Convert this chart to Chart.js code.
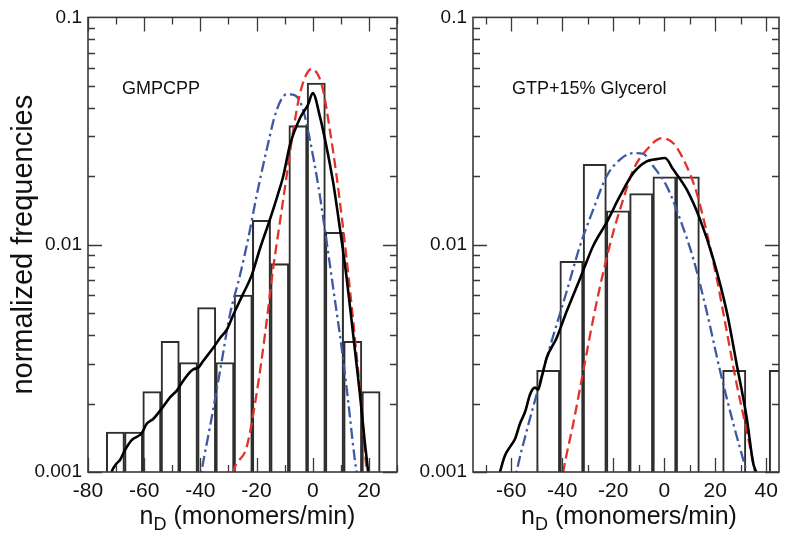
<!DOCTYPE html>
<html>
<head>
<meta charset="utf-8">
<script src="https://cdn.jsdelivr.net/npm/chart.js@4"></script>
<style>
html,body{margin:0;padding:0;background:#fff;}
#wrap{position:relative;width:786px;height:536px;overflow:hidden;}
canvas{position:absolute;top:0;}
#c1{left:0;}
#c2{left:420px;}
</style>
</head>
<body>
<div id="wrap">
<canvas id="c1" width="420" height="536"></canvas>
<canvas id="c2" width="366" height="536"></canvas>
</div>
<script>
// ---------- data ----------
const yTickValues = [0.001, 0.01, 0.1];
const yTickLabels = ['0.001', '0.01', '0.1'];
const leftXTicks = [-80, -60, -40, -20, 0, 20];
const rightXTicks = [-60, -40, -20, 0, 20, 40];
const panelLabels = ['GMPCPP', 'GTP+15% Glycerol'];
const yTitle = 'normalized frequencies';
const xTitleParts = ['n', 'D', ' (monomers/min)'];

// left panel (GMPCPP) histogram
const leftBinX = [-70.25, -63.75, -57.25, -50.75, -44.25, -37.75, -31.25, -24.75, -18.25, -11.75, -5.25, 1.25, 7.75, 14.25, 20.75];
const leftBinY = [0.0015, 0.0015, 0.00226, 0.00376, 0.00303, 0.00529, 0.00303, 0.00601, 0.0128, 0.00825, 0.0334, 0.0514, 0.01134, 0.00376, 0.00226];

// left panel curves
const leftBlackX = [-73, -71.6, -69.8, -68.6, -66.8, -64.45, -60.9, -59.1, -56.8, -53.8, -50.8, -48.4, -46.1, -43.7, -42.5, -40.7, -39.0, -35.4, -33.0, -30.6, -28.3, -25, -21.7, -18.8, -15.2, -12.5, -10.5, -8.1, -4.6, -1.6, 0.0, 2.56, 4.9, 7.3, 9.7, 12.1, 14.4, 16.8, 18.6, 19.75, 20.5];
const leftBlackY = [0.00085, 0.001, 0.00109, 0.00113, 0.00125, 0.00138, 0.00148, 0.00163, 0.00171, 0.0019, 0.00213, 0.00228, 0.00252, 0.00275, 0.00283, 0.00288, 0.00308, 0.00352, 0.00389, 0.00423, 0.00491, 0.006, 0.00735, 0.0096, 0.01296, 0.0165, 0.0200, 0.0275, 0.0359, 0.0415, 0.0465, 0.0366, 0.027, 0.0187, 0.01172, 0.0071, 0.00402, 0.0022, 0.00133, 0.001, 0.00085];
const leftBlueX = [-40.5, -39.5, -36.6, -33.0, -29.5, -25.9, -23.0, -20.0, -16.4, -12.85, -9.3, -6.3, -3.4, -1.0, 2.0, 4.3, 7.3, 10.3, 12.6, 15.0, 15.6, 16.2];
const leftBlueY = [0.00085, 0.00102, 0.001575, 0.00278, 0.00491, 0.00734, 0.0106, 0.01638, 0.02615, 0.03906, 0.04585, 0.0454, 0.0391, 0.0289, 0.0181, 0.01172, 0.00642, 0.00352, 0.00206, 0.001127, 0.001, 0.00088];
const leftRedX = [-29.3, -28.3, -23.5, -20.0, -17.0, -14.1, -11.7, -9.3, -6.9, -4.55, -2.2, -0.4, 2.0, 3.7, 6.1, 8.5, 10.85, 13.2, 15.6, 17.4, 19.2, 19.8];
const leftRedY = [0.00085, 0.001, 0.00129, 0.002203, 0.00402, 0.00784, 0.01253, 0.02002, 0.03196, 0.04618, 0.0564, 0.0593, 0.05548, 0.04774, 0.03196, 0.02002, 0.01172, 0.00642, 0.00329, 0.001925, 0.001, 0.00088];

// right panel (GTP+15% Glycerol) histogram
const rightBinX = [-45.5, -36.38, -27.26, -18.14, -9.02, 0.1, 9.22, 18.34, 27.46, 36.58, 45.7];
const rightBinY = [0.0028, 0.00845, 0.0226, 0.0141, 0.0168, 0.0199, 0.0199, null, 0.0028, null, 0.0028];

// right panel curves
const rightBlackX = [-65.5, -64.4, -62.5, -60.5, -58.5, -56.6, -54.5, -52.6, -50.7, -49.5, -48.1, -46.1, -42.2, -38.3, -33.0, -27.8, -22.6, -17.35, -12.1, -6.9, -3.0, 0.3, 3.55, 8.8, 14.0, 19.2, 24.5, 28.4, 32.3, 34.9, 36.0, 37];
const rightBlackY = [0.00088, 0.001, 0.00118, 0.00129, 0.0014, 0.00163, 0.00185, 0.0022, 0.00235, 0.0023, 0.0026, 0.00318, 0.00389, 0.00508, 0.0071, 0.00992, 0.01253, 0.01638, 0.0207, 0.02328, 0.0238, 0.02405, 0.0214, 0.0175, 0.01296, 0.00867, 0.00508, 0.00298, 0.00174, 0.00109, 0.001, 0.00088];
const rightBlueX = [-59, -57.9, -53.9, -50.0, -46.1, -42.2, -38.3, -33.0, -27.8, -22.6, -17.35, -12.1, -8.2, -4.3, 0.96, 6.2, 11.4, 16.65, 21.9, 27.1, 31.0, 32.3, 33.3];
const rightBlueY = [0.00085, 0.001, 0.001524, 0.0022, 0.00318, 0.00445, 0.00621, 0.00992, 0.01432, 0.02002, 0.02366, 0.0253, 0.0251, 0.02213, 0.0181, 0.01296, 0.00867, 0.00508, 0.00278, 0.00163, 0.00113, 0.001, 0.00088];
const rightRedX = [-40.5, -39.6, -35.7, -31.75, -27.8, -23.9, -20.0, -16.1, -12.1, -6.9, -1.0, 3.55, 8.8, 12.7, 16.65, 20.6, 24.5, 28.4, 32.3, 35.6, 36.5];
const rightRedY = [0.00085, 0.001, 0.00163, 0.00278, 0.00475, 0.00759, 0.01134, 0.01584, 0.0214, 0.02615, 0.0294, 0.02796, 0.02213, 0.01693, 0.01134, 0.0071, 0.00416, 0.002435, 0.001524, 0.001, 0.00088];

// ---------- drawing ----------
const FONT = '"Liberation Sans", Arial, sans-serif';
Chart.defaults.font.family = FONT;
Chart.defaults.color = '#111';

function pts(xs, ys) { return xs.map((x, i) => ({ x: x, y: ys[i] })); }

function framePlugin() {
  return {
    id: 'frame',
    afterDatasetsDraw(chart) {
      const { ctx, chartArea: a, scales: { x, y } } = chart;
      ctx.save();
      ctx.strokeStyle = '#3a3a3a';
      ctx.lineWidth = 1.3;
      ctx.beginPath();
      for (let v = Math.ceil(x.min / 10) * 10; v <= x.max; v += 10) {
        const px = Math.round(x.getPixelForValue(v)) + 0.5;
        const len = (Math.abs(v) % 20 === 0) ? 14 : 7;
        ctx.moveTo(px, a.bottom); ctx.lineTo(px, a.bottom - len);
        ctx.moveTo(px, a.top); ctx.lineTo(px, a.top + len);
      }
      for (let d = -3; d < -1; d++) {
        for (let m = 1; m <= 9; m++) {
          const v = m * Math.pow(10, d);
          const py = Math.round(y.getPixelForValue(v)) + 0.5;
          const len = m === 1 ? 14 : 7;
          ctx.moveTo(a.left, py); ctx.lineTo(a.left + len, py);
          ctx.moveTo(a.right, py); ctx.lineTo(a.right - len, py);
        }
      }
      ctx.stroke();
      ctx.lineWidth = 1.6;
      ctx.strokeRect(a.left, a.top, a.right - a.left, a.bottom - a.top);
      ctx.restore();
    }
  };
}

function textPlugin(label, labelDx, titleDx) {
  return {
    id: 'txt',
    afterDraw(chart) {
      const { ctx, chartArea: a } = chart;
      ctx.save();
      ctx.fillStyle = '#111';
      ctx.textBaseline = 'alphabetic';
      ctx.textAlign = 'left';
      ctx.font = '18px ' + FONT;
      ctx.fillText(label, a.left + labelDx, a.top + 77);
      const big = '25px ' + FONT, small = '18px ' + FONT;
      ctx.font = big;
      const wn = ctx.measureText(xTitleParts[0]).width;
      const wr = ctx.measureText(xTitleParts[2]).width;
      ctx.font = small;
      const wd = ctx.measureText(xTitleParts[1]).width;
      const total = wn + wd + wr;
      const x0 = (a.left + a.right) / 2 + titleDx - total / 2;
      const yb = 524;
      ctx.font = big; ctx.fillText(xTitleParts[0], x0, yb);
      ctx.font = small; ctx.fillText(xTitleParts[1], x0 + wn, yb + 6);
      ctx.font = big; ctx.fillText(xTitleParts[2], x0 + wn + wd, yb);
      ctx.restore();
    }
  };
}

function makePanel(id, c) {
  return new Chart(document.getElementById(id), {
    type: 'bar',
    data: {
      datasets: [
        { type: 'line', data: pts(c.bx, c.by), borderColor: '#000', borderWidth: 2.6, pointRadius: 0, cubicInterpolationMode: 'monotone', order: 1 },
        { type: 'line', data: pts(c.rx, c.ry), borderColor: '#e2332b', borderWidth: 2.3, borderDash: [10, 5], pointRadius: 0, cubicInterpolationMode: 'monotone', order: 2 },
        { type: 'line', data: pts(c.ux, c.uy), borderColor: '#3d58a6', borderWidth: 2.3, borderDash: [11, 4, 2.5, 4], pointRadius: 0, cubicInterpolationMode: 'monotone', order: 3 },
        { type: 'bar', data: pts(c.hx, c.hy), backgroundColor: 'rgba(255,255,255,0)', borderColor: '#2e2e2e', borderWidth: 1.4, barPercentage: 1, categoryPercentage: 1, order: 4 }
      ]
    },
    options: {
      responsive: false,
      animation: false,
      layout: { padding: { top: 13, right: c.padRight, bottom: 0, left: 0 } },
      plugins: { legend: { display: false }, tooltip: { enabled: false } },
      scales: {
        x: {
          type: 'linear', min: c.xmin, max: c.xmax, offset: false,
          grid: { display: false, drawTicks: false }, border: { display: false },
          afterBuildTicks: s => { s.ticks = c.xticks.map(v => ({ value: v })); },
          ticks: { font: { size: 21 }, color: '#111', padding: 7, maxRotation: 0, autoSkip: false },
          afterFit: s => { s.height = 64; }
        },
        y: {
          type: 'logarithmic', min: 0.001, max: 0.1,
          grid: { display: false, drawTicks: false }, border: { display: false },
          afterBuildTicks: s => { s.ticks = yTickValues.map(v => ({ value: v })); },
          ticks: {
            font: { size: 19 }, color: '#111', padding: 6, autoSkip: false,
            callback: v => {
              const i = yTickValues.findIndex(t => Math.abs(t - v) / t < 1e-6);
              return i >= 0 ? yTickLabels[i] : '';
            }
          },
          title: { display: c.showTitle, text: yTitle, font: { size: 29 }, color: '#111', padding: { top: 7, bottom: 0 } },
          afterFit: s => { s.width = c.yWidth; }
        }
      }
    },
    plugins: [framePlugin(), textPlugin(c.label, c.labelDx, c.titleDx)]
  });
}

makePanel('c1', {
  hx: leftBinX, hy: leftBinY,
  bx: leftBlackX, by: leftBlackY, ux: leftBlueX, uy: leftBlueY, rx: leftRedX, ry: leftRedY,
  xmin: -80, xmax: 30, xticks: leftXTicks, padRight: 23, yWidth: 88, showTitle: true,
  label: panelLabels[0], labelDx: 34, titleDx: 5
});
makePanel('c2', {
  hx: rightBinX, hy: rightBinY,
  bx: rightBlackX, by: rightBlackY, ux: rightBlueX, uy: rightBlueY, rx: rightRedX, ry: rightRedY,
  xmin: -75, xmax: 45, xticks: rightXTicks, padRight: 7, yWidth: 53, showTitle: false,
  label: panelLabels[1], labelDx: 39, titleDx: 3
});
</script>
</body>
</html>
